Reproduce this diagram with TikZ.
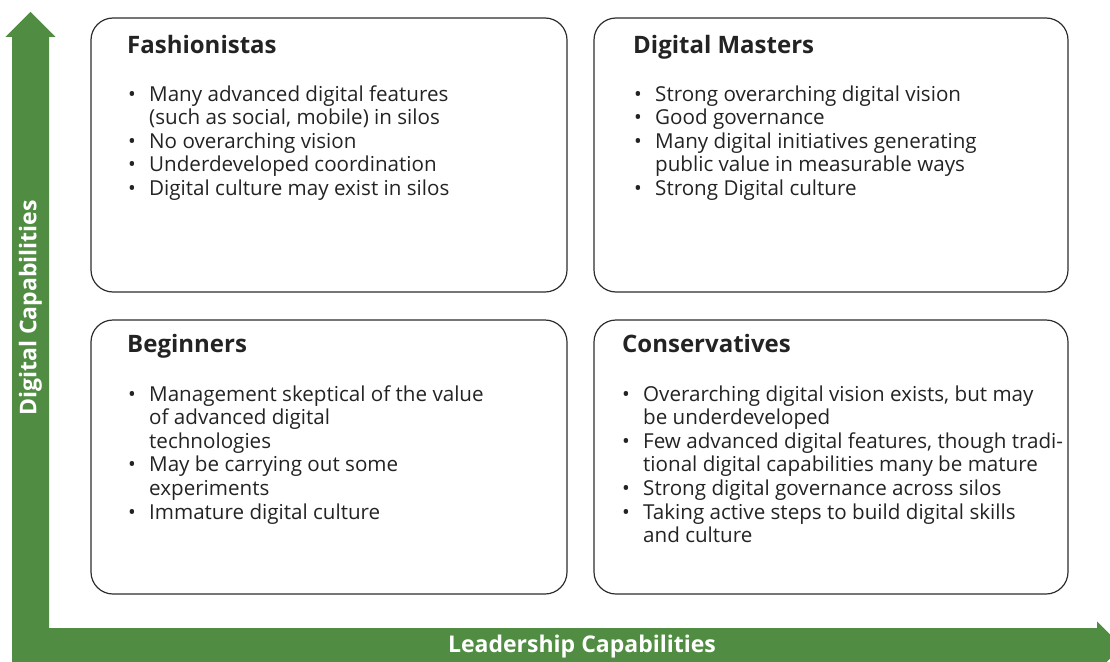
\documentclass[tikz,border=0pt]{standalone}
\usepackage{fontspec}
\setmainfont{Open Sans}
\usetikzlibrary{positioning}
\definecolor{axisgreen}{RGB}{80,141,66}
\definecolor{boxline}{RGB}{45,45,45}
\definecolor{bodytext}{RGB}{35,35,35}
\newcommand{\qitems}[1]{\begin{tabular}[t]{@{}p{21pt}@{}l@{}}#1\end{tabular}}

\begin{document}
\begin{tikzpicture}[
  x=1pt, y=-1pt,
  quad/.style={draw=boxline, line width=1.2pt, rounded corners=22pt, minimum width=#1, minimum height=274pt, inner sep=0pt},
  quad/.default=476pt,
  qtitle/.style={anchor=base west, inner sep=0pt, text=bodytext, font=\fontsize{24}{27}\selectfont\bfseries},
  qlist/.style={anchor=base west, inner sep=0pt, text=bodytext, font=\fontsize{20.6}{23.6}\selectfont},
  axislabel/.style={text=white, inner sep=0pt, font=\fontsize{23}{26}\selectfont\bfseries}
]
\useasboundingbox (0,0) rectangle (1110,661);

% the two axes, one green L with an arrow head at each end
\fill[axisgreen] (12,665) -- (12,37) -- (5.5,37) -- (30.5,12) -- (55.5,37) -- (49,37)
  -- (49,628) -- (1097,628) -- (1097,621.5) -- (1122,646.5) -- (1097,671.5) -- (1097,665) -- cycle;
\node[axislabel, rotate=90] (ylabel) at (30.5,308) {Digital Capabilities};
\node[axislabel] (xlabel) at (582,647) {Leadership Capabilities};

% quadrants
\node[quad] (fashion) at (329,155) {};
\node[quad=474pt] (masters) at (831,155) {};
\node[quad] (beginners) at (329,457) {};
\node[quad=474pt] (conserv) at (831,457) {};

\node[qtitle] (fashionT) at (127,53) {Fashionistas};
\node[qlist] (fashionL) at (128,101) {\qitems{%
  \textbullet & Many advanced digital features\\
   & (such as social, mobile) in silos\\
  \textbullet & No overarching vision\\
  \textbullet & Underdeveloped coordination\\
  \textbullet & Digital culture may exist in silos}};

\node[qtitle] (mastersT) at (633,53) {Digital Masters};
\node[qlist] (mastersL) at (634,101) {\qitems{%
  \textbullet & Strong overarching digital vision\\
  \textbullet & Good governance\\
  \textbullet & Many digital initiatives generating\\
   & public value in measurable ways\\
  \textbullet & Strong Digital culture}};

\node[qtitle] (beginnersT) at (127,352) {Beginners};
\node[qlist] (beginnersL) at (128,401) {\qitems{%
  \textbullet & Management skeptical of the value\\
   & of advanced digital\\
   & technologies\\
  \textbullet & May be carrying out some\\
   & experiments\\
  \textbullet & Immature digital culture}};

\node[qtitle] (conservT) at (622,352) {Conservatives};
\node[qlist] (conservL) at (622,401) {\qitems{%
  \textbullet & Overarching digital vision exists, but may\\
   & be underdeveloped\\
  \textbullet & Few advanced digital features, though tradi-\\
   & tional digital capabilities many be mature\\
  \textbullet & Strong digital governance across silos\\
  \textbullet & Taking active steps to build digital skills\\
   & and culture}};
\end{tikzpicture}
\end{document}
